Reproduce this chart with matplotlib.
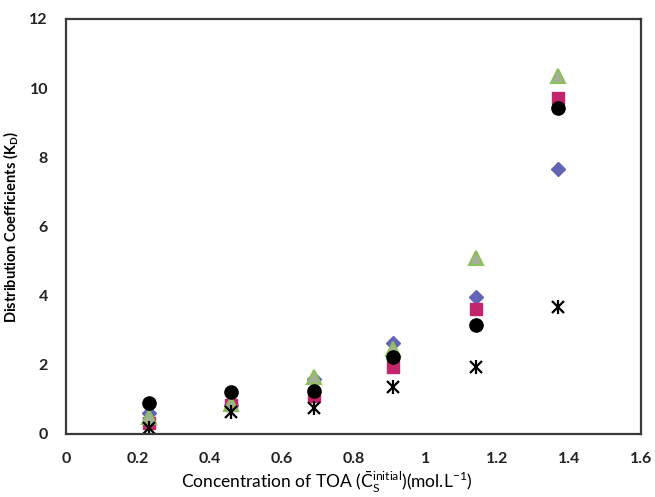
import matplotlib
matplotlib.use("Agg")
import matplotlib.pyplot as plt

plt.rcParams['font.family'] = ['Lato', 'DejaVu Sans']
plt.rcParams['mathtext.fontset'] = 'custom'
plt.rcParams['mathtext.rm'] = 'Lato'
plt.rcParams['mathtext.bf'] = 'Lato:bold'

conc = [0.23, 0.46, 0.69, 0.91, 1.14, 1.37]
kd_diamond = [0.60, 0.85, 1.60, 2.63, 3.96, 7.66]
kd_square = [0.32, 0.85, 1.10, 1.94, 3.61, 9.72]
kd_triangle = [0.50, 0.88, 1.66, 2.45, 5.09, 10.35]
kd_circle = [0.90, 1.21, 1.25, 2.23, 3.15, 9.43]
kd_star = [0.17, 0.64, 0.75, 1.36, 1.94, 3.67]

xticks = [0, 0.2, 0.4, 0.6, 0.8, 1, 1.2, 1.4, 1.6]
xticklabels = ['0', '0.2', '0.4', '0.6', '0.8', '1', '1.2', '1.4', '1.6']
yticks = [0, 2, 4, 6, 8, 10, 12]

fig = plt.figure(figsize=(6.55, 4.97), dpi=100)
ax = fig.add_axes([0.1008, 0.1268, 0.8778, 0.835])

ax.plot(conc, kd_diamond, linestyle='none', marker='D', ms=7.5, color='#6264b4', mec='#6264b4')
ax.plot(conc, kd_square, linestyle='none', marker='s', ms=8.5, color='#c4246c', mec='#c4246c')
ax.plot(conc, kd_triangle, linestyle='none', marker='^', ms=9.5, color='#a4ad98', mec='#8cc05a', mew=1.5)
ax.plot(conc, kd_circle, linestyle='none', marker='o', ms=9.5, color='black', mec='black')
ax.plot(conc, kd_star, linestyle='none', marker='x', ms=9, color='black', mew=1.6)
ax.plot(conc, kd_star, linestyle='none', marker='|', ms=10, color='black', mew=1.6)

ax.set_xlim(0, 1.6)
ax.set_ylim(0, 12)
ax.set_xticks(xticks)
ax.set_xticklabels(xticklabels)
ax.set_yticks(yticks)
ax.tick_params(length=0, labelsize=11.5, colors='#222222')
ax.tick_params(axis='x', pad=13)
ax.tick_params(axis='y', pad=13)
for lab in ax.get_yticklabels():
    lab.set_fontweight('bold')
for lab in ax.get_xticklabels():
    lab.set_fontweight('bold')
for s in ax.spines.values():
    s.set_color('#3a3a3a')
    s.set_linewidth(1.6)

ax.set_ylabel(r'Distribution Coefficients (K$_\mathbf{D}$)', fontsize=10.5, fontweight='bold', labelpad=6)
ax.set_xlabel(r'Concentration of TOA ($\bar{\mathrm{C}}_\mathrm{S}^{\mathrm{initial}}$)(mol.L$^{\mathrm{-1}}$)', fontsize=12.5, labelpad=1)
ax.xaxis.set_label_coords(0.453, -0.087)

fig.savefig('out.png', dpi=100)
